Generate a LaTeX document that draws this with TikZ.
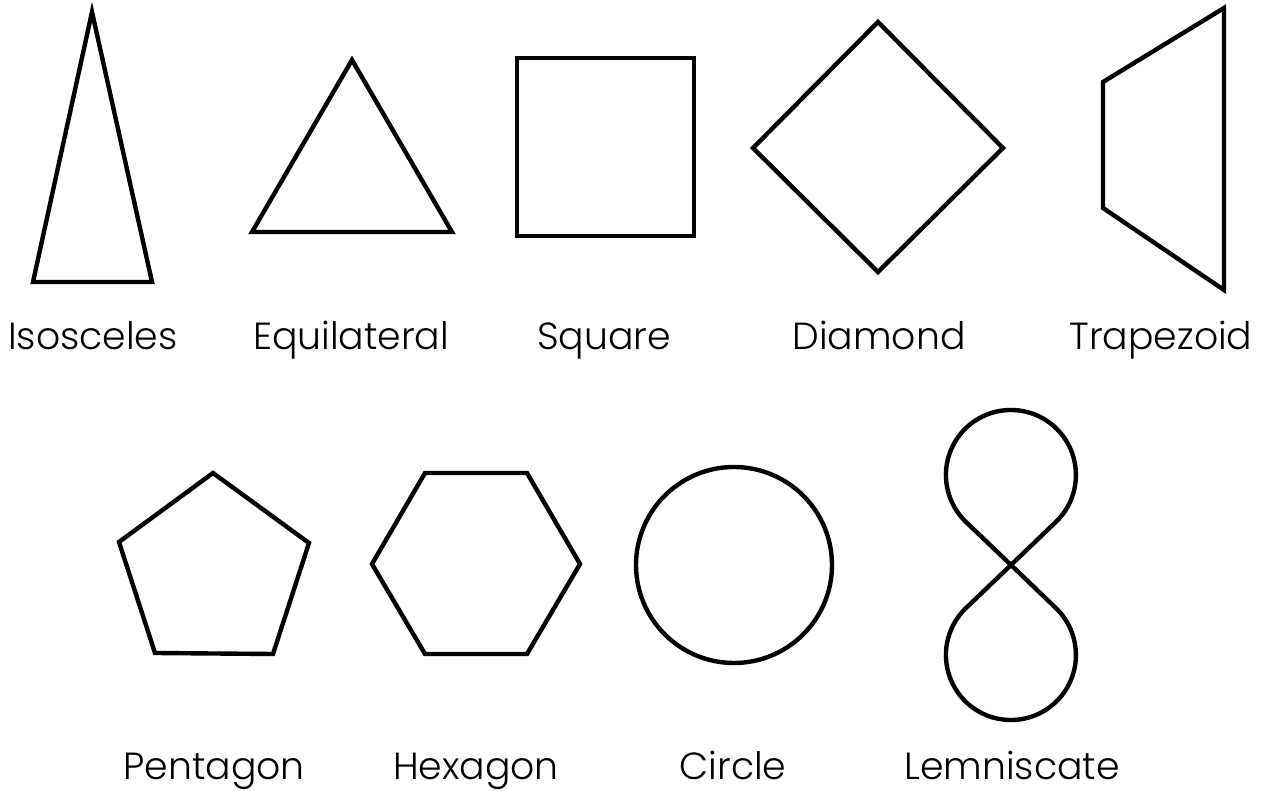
\documentclass[tikz,border=0pt]{standalone}
\usepackage{fontspec}
\setmainfont{Poppins}[UprightFont={* Light}]
\begin{document}
\begin{tikzpicture}[x=0.02cm,y=0.02cm,
  shape line/.style={line width=2.5pt, line join=miter},
  lbl/.style={anchor=base, font=\fontsize{21.5}{26}\selectfont, inner sep=0pt}]
\useasboundingbox (0,0) rectangle (1275,791);
% top row
\draw[shape line] (92,779) -- (33,509) -- (152,509) -- cycle;
\draw[shape line] (352,731) -- (252,559) -- (452,559) -- cycle;
\draw[shape line] (517,555) rectangle (694,733);
\draw[shape line] (878,769) -- (1003,643) -- (878,519) -- (753,643) -- cycle;
\draw[shape line] (1103,709) -- (1224,783) -- (1224,501) -- (1103,583) -- cycle;
% bottom row
\draw[shape line] (213,318) -- (309,248) -- (273,137) -- (155,138) -- (119,249) -- cycle;
\draw[shape line] (372,227) -- (425,318) -- (527,318) -- (580,227) -- (527,137) -- (425,137) -- cycle;
\draw[shape line] (734,226) circle[radius=98];
\coordinate (C) at (1011,226);
\draw[shape line, line join=round] (C) -- ++(44.9,43.1) arc[start angle=-46.2, end angle=226.2, radius=65]
  -- (C) -- ++(44.9,-43.1) arc[start angle=46.2, end angle=-226.2, radius=65] -- cycle;
% labels
\node[lbl] (l1) at (93,441) {Isosceles};
\node[lbl] (l2) at (351,441) {Equilateral};
\node[lbl] (l3) at (604,441) {Square};
\node[lbl] (l4) at (879,441) {Diamond};
\node[lbl] (l5) at (1161,441) {Trapezoid};
\node[lbl] (l6) at (214,11) {Pentagon};
\node[lbl] (l7) at (476,11) {Hexagon};
\node[lbl] (l8) at (733,11) {Circle};
\node[lbl] (l9) at (1012,11) {Lemniscate};
\end{tikzpicture}
\end{document}
